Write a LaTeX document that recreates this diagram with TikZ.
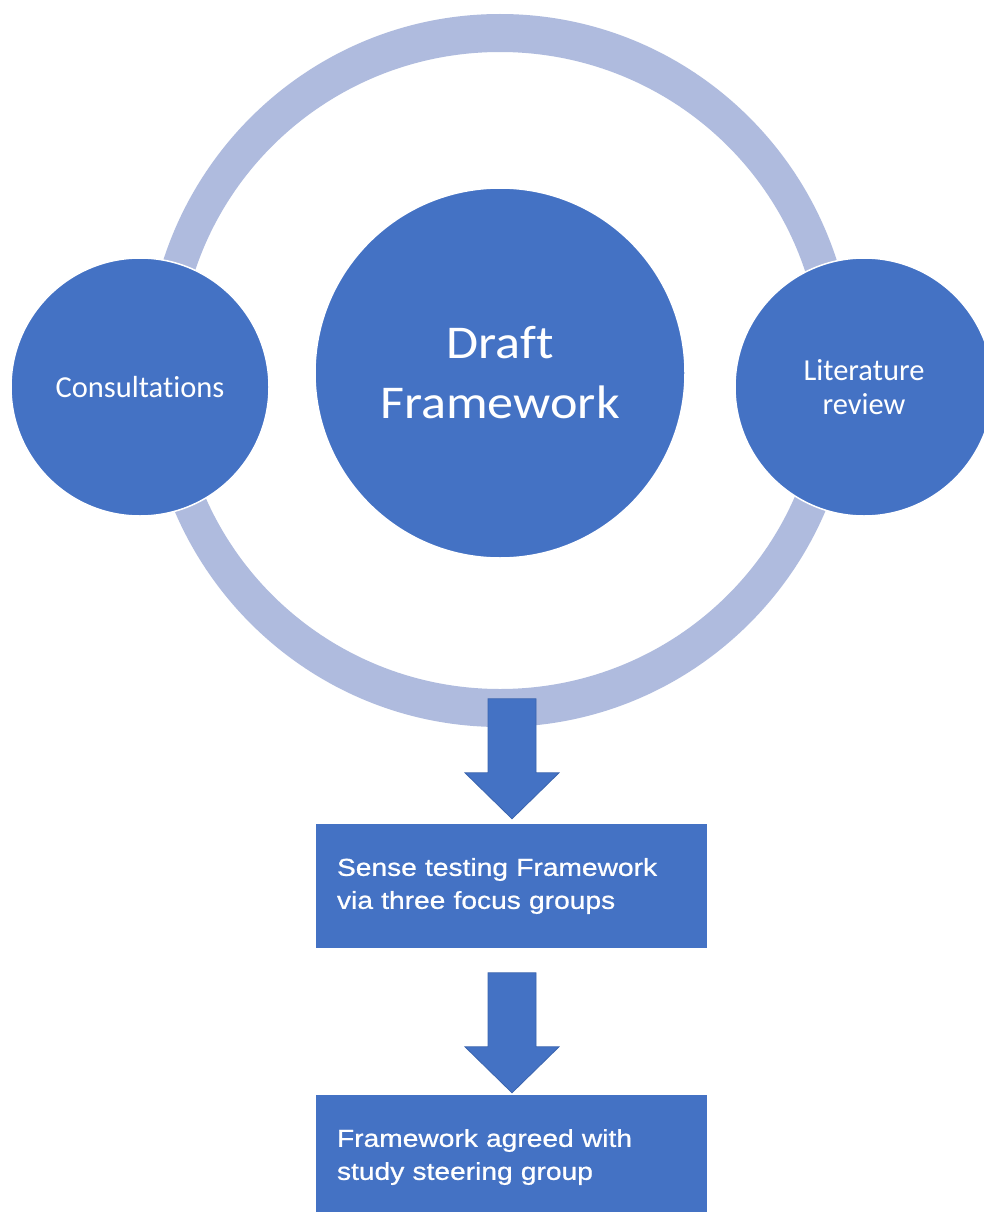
\documentclass[tikz,border=0pt]{standalone}
\usepackage{fontspec}
\setmainfont{Carlito}
\newfontfamily\circlefont[RawFeature={-liga;-clig;-dlig}]{Carlito}
\newfontfamily\bigfont[FakeStretch=1.11,RawFeature={-liga;-clig;-dlig}]{Carlito}
\newfontfamily\boxfont[FakeStretch=1.15,FakeBold=0.8]{Liberation Sans}
\definecolor{mainblue}{HTML}{4472C4}
\definecolor{ringblue}{HTML}{AFBBDE}
\definecolor{arrowedge}{HTML}{3A64AE}

\begin{document}
\begin{tikzpicture}[x=1pt,y=-1pt,
  bubble/.style={circle, fill=mainblue, draw=white, line width=1.5pt,
    text=white, align=center, inner sep=0pt},
  stepbox/.style={rectangle, fill=mainblue, text=white,
    minimum width=391pt, minimum height=124pt, text width=349pt,
    inner xsep=21pt, inner ysep=0pt, align=left,
    font=\boxfont\fontsize{24.5}{33}\selectfont},
  blockarrow/.style={fill=mainblue, draw=arrowedge, line width=0.8pt, line join=miter}
]
\useasboundingbox (0,0) rectangle (984,1212);
\clip (0,0) rectangle (984,1212);
\fill[white] (0,0) rectangle (984,1212);

% the cycle ring behind the three bubbles
\fill[ringblue, even odd rule]
  (500,370.5) ellipse [x radius=354, y radius=356.5]
  (500,370.5) ellipse [x radius=321, y radius=318.5];
\coordinate (ringbottom) at (512,699);

% bubbles
\node[bubble, minimum size=258pt, font=\circlefont\fontsize{30.5}{34}\selectfont]
  (consult) at (140,387) {Consultations};
\node[bubble, minimum size=370pt, font=\bigfont\fontsize{47}{60}\selectfont]
  (draft) at (500,373) {Draft\\Framework};
\node[bubble, minimum size=258pt, font=\circlefont\fontsize{30.5}{34}\selectfont]
  (lit) at (864,387) {Literature\\review};

% process steps
\node[stepbox] (sense) at (511.5,886) {Sense testing Framework\\via three focus groups};
\node[stepbox] (agreed) at (511.5,1157) {Framework agreed with\\study steering group};

% block arrows, each traced from its tip: ring -> first step, first -> second step
\path (ringbottom |- sense.north) ++(0,-5) coordinate (tip1);
\filldraw[blockarrow] (tip1) -- ++(-47,-46) -- ++(23,0) -- ++(0,-74)
  -- ++(48,0) -- ++(0,74) -- ++(23,0) -- cycle;
\path (ringbottom |- agreed.north) ++(0,-2) coordinate (tip2);
\filldraw[blockarrow] (tip2) -- ++(-47,-46) -- ++(23,0) -- ++(0,-74)
  -- ++(48,0) -- ++(0,74) -- ++(23,0) -- cycle;
\end{tikzpicture}
\end{document}
